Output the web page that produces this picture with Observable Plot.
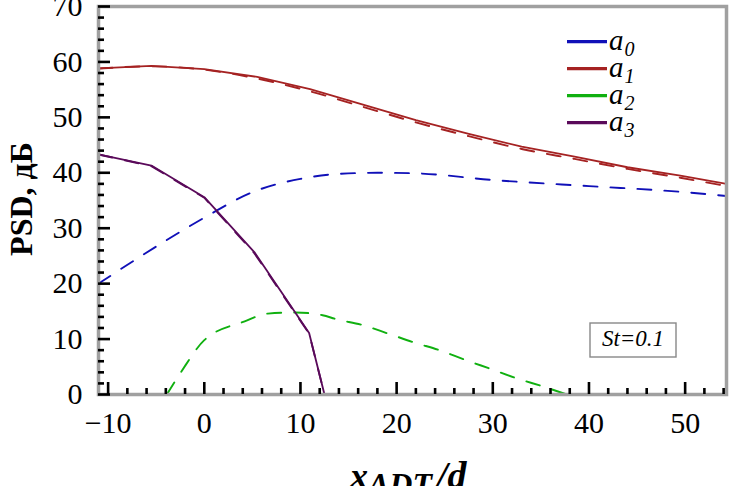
<!DOCTYPE html>
<html>
<head>
<meta charset="utf-8">
<script src="https://cdn.jsdelivr.net/npm/d3@7"></script>
<script src="https://cdn.jsdelivr.net/npm/@observablehq/plot@0.6"></script>
<style>
  html, body { margin: 0; padding: 0; background: white; overflow: hidden; }
  #chart svg text { font-family: 'Liberation Serif', 'Times New Roman', serif; }
</style>
</head>
<body>
<div id="chart"></div>
<script>
// ---- data ----
const xDomain = [-11, 54.3];
const yDomain = [0, 70];
const xMajor = [-10, 0, 10, 20, 30, 40, 50];
const xMinor = [-8, -6, -4, -2, 2, 4, 6, 8, 12, 14, 16, 18, 22, 24, 26, 28, 32, 34, 36, 38, 42, 44, 46, 48, 52, 54];
const yMajor = [0, 10, 20, 30, 40, 50, 60, 70];
const yMinor = [2, 4, 6, 8, 12, 14, 16, 18, 22, 24, 26, 28, 32, 34, 36, 38, 42, 44, 46, 48, 52, 54, 56, 58, 62, 64, 66, 68];

const seriesNames = ["a0", "a1", "a2", "a3"];
const seriesColors = ["#1010b8", "#a52222", "#10b010", "#5a0a5a"];

// a0 (dashed, blue)
const a0X = [-11, -5, 0, 5, 10, 14, 18, 22, 30, 40, 50, 54.3];
const a0Dashed = [20.0, 26.7, 31.9, 36.5, 38.9, 39.8, 40.0, 39.9, 38.7, 37.6, 36.5, 35.8];

// a1 (solid + dashed, red)
const a1X = [-11, -5.5, 0, 5.5, 11, 16.5, 22, 27.5, 33, 38.5, 44, 49.5, 54.3];
const a1Solid = [58.85, 59.3, 58.7, 57.3, 55.1, 52.3, 49.5, 47.0, 44.7, 42.9, 41.0, 39.5, 38.0];
const a1Dashed = [58.8, 59.2, 58.6, 57.0, 54.7, 51.9, 49.1, 46.6, 44.3, 42.5, 40.7, 39.1, 37.6];

// a2 (dashed, green)
const a2X = [-3.9, -2.4, 0, 4.2, 6.6, 9.5, 12.3, 13.7, 16.5, 19.1, 21.8, 24.6, 27.2, 29.8, 32.5, 35.3, 37.7];
const a2Dashed = [0, 4.1, 9.8, 13.2, 14.6, 14.8, 14.3, 13.6, 12.5, 11.0, 9.4, 7.9, 6.2, 4.6, 2.9, 1.4, 0];

// a3 (solid + dashed, purple)
const a3X = [-11, -5.5, 0, 5.2, 10.9, 12.5];
const a3Solid = [43.3, 41.3, 35.6, 25.7, 11.1, 0];
const a3Dashed = [43.3, 41.2, 35.5, 25.5, 11.0, 0];

const stLabel = "St=0.1";
const yLabel = "PSD, дБ";

// ---- build tables ----
const pts = (xs, ys) => xs.map((x, i) => ({x, y: ys[i]}));
const fmt = d => d < 0 ? "\u2212" + (-d) : String(d);

const W = 730, H = 486;
const mL = 98, mR = 4, mT = 6, mB = 92;
const dash = "14,13";
const serif = "'Liberation Serif', 'Times New Roman', serif";

const chart = Plot.plot({
  width: W, height: H,
  marginLeft: mL, marginRight: mR, marginTop: mT, marginBottom: mB,
  style: {fontFamily: serif, fontSize: "30px", color: "black", background: "white", overflow: "visible"},
  x: {domain: xDomain},
  y: {domain: yDomain},
  marks: [
    // lines
    Plot.line(pts(a0X, a0Dashed), {x: "x", y: "y", stroke: seriesColors[0], strokeWidth: 1.9, strokeDasharray: dash, curve: "monotone-x"}),
    Plot.line(pts(a2X, a2Dashed), {x: "x", y: "y", stroke: seriesColors[2], strokeWidth: 1.9, strokeDasharray: dash, curve: "monotone-x"}),
    Plot.line(pts(a1X, a1Dashed), {x: "x", y: "y", stroke: seriesColors[1], strokeWidth: 1.9, strokeDasharray: dash, curve: "monotone-x"}),
    Plot.line(pts(a1X, a1Solid), {x: "x", y: "y", stroke: seriesColors[1], strokeWidth: 1.8}),
    Plot.line(pts(a3X, a3Dashed), {x: "x", y: "y", stroke: seriesColors[3], strokeWidth: 1.9, strokeDasharray: dash}),
    Plot.line(pts(a3X, a3Solid), {x: "x", y: "y", stroke: seriesColors[3], strokeWidth: 1.8}),
    // frame
    Plot.frame({stroke: "#a0a0a0", strokeWidth: 3.5}),
    // inward ticks
    Plot.ruleX(xMajor, {x: d => d, y1: yDomain[0], y2: yDomain[0], insetTop: -12, stroke: "black", strokeWidth: 2.6}),
    Plot.ruleX(xMinor, {x: d => d, y1: yDomain[0], y2: yDomain[0], insetTop: -6, stroke: "black", strokeWidth: 2.6}),
    Plot.ruleY(yMajor, {y: d => d, x1: xDomain[0], x2: xDomain[0], insetRight: -12, stroke: "black", strokeWidth: 2.6}),
    Plot.ruleY(yMinor, {y: d => d, x1: xDomain[0], x2: xDomain[0], insetRight: -6, stroke: "black", strokeWidth: 2.6}),
    // tick labels
    Plot.axisX({ticks: xMajor, tickSize: 0, tickPadding: 17, tickFormat: fmt, label: null, fontFamily: serif, fontSize: 30}),
    Plot.axisY({ticks: yMajor, tickSize: 0, tickPadding: 16, tickFormat: fmt, label: null, fontFamily: serif, fontSize: 30})
  ]
});
document.getElementById("chart").appendChild(chart);

// ---- extra annotations (legend, labels, St box) ----
const svg = d3.select(chart);

// y label
svg.append("text")
  .attr("transform", "translate(32,199) rotate(-90)")
  .attr("text-anchor", "middle")
  .attr("font-family", serif).attr("font-weight", "bold").attr("font-size", 32)
  .attr("fill", "black")
  .text(yLabel);

// x label
const xl = svg.append("text")
  .attr("x", 350).attr("y", 488)
  .attr("text-anchor", "start")
  .attr("font-family", serif).attr("font-weight", "bold").attr("font-style", "italic")
  .attr("font-size", 36).attr("fill", "black");
xl.append("tspan").text("x");
xl.append("tspan").attr("font-size", 32).attr("dy", 7).text("ADT");
xl.append("tspan").attr("font-size", 38).attr("dy", -7).attr("dx", 5).text("/d");

// legend
const legY0 = 41.7, legStep = 27;
seriesNames.forEach((name, i) => {
  const y = legY0 + i * legStep;
  svg.append("line").attr("x1", 567).attr("x2", 607).attr("y1", y).attr("y2", y)
    .attr("stroke", seriesColors[i]).attr("stroke-width", 3.2);
  const t = svg.append("text").attr("x", 609).attr("y", y + 8)
    .attr("text-anchor", "start")
    .attr("font-family", serif).attr("font-style", "italic").attr("font-size", 29).attr("fill", "black");
  t.append("tspan").text(name[0]);
  t.append("tspan").attr("font-size", 20).attr("dy", 6).attr("dx", 1).text(name.slice(1));
});

// St box
svg.append("rect").attr("x", 590).attr("y", 323).attr("width", 86).attr("height", 34)
  .attr("fill", "white").attr("stroke", "#888").attr("stroke-width", 1.4);
svg.append("text").attr("x", 633).attr("y", 346).attr("text-anchor", "middle")
  .attr("font-family", serif).attr("font-style", "italic").attr("font-size", 23).attr("fill", "black")
  .text(stLabel);
</script>
</body>
</html>
